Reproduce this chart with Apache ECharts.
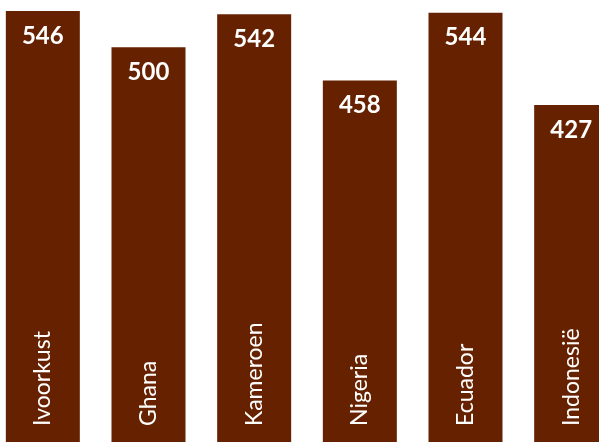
<!DOCTYPE html>
<html>
<head>
<meta charset="utf-8">
<script src="https://cdn.jsdelivr.net/npm/echarts@6/dist/echarts.min.js"></script>
<style>
html,body{margin:0;padding:0;background:#fff;overflow:hidden;width:599px;height:442px;}
#c{width:634px;height:442px;margin-left:-10px;}
</style>
</head>
<body>
<div id="c"></div>
<script>
var categories = ['Ivoorkust', 'Ghana', 'Kameroen', 'Nigeria', 'Ecuador', 'Indonesië'];
var values = [546, 500, 542, 458, 544, 427];

var chart = echarts.init(document.getElementById('c'), null, {renderer: 'canvas'});
chart.setOption({
  animation: false,
  grid: {left: 0, right: 0, top: 0, bottom: 0, containLabel: false},
  xAxis: {
    type: 'category',
    data: categories,
    axisLine: {show: false},
    axisTick: {show: false},
    axisLabel: {
      inside: true,
      rotate: 90,
      margin: 16,
      color: '#ffffff',
      fontFamily: 'Lato',
      fontSize: 23,
      interval: 0
    },
    z: 10
  },
  yAxis: {
    type: 'value',
    min: 0,
    max: 560,
    show: false,
    splitLine: {show: false}
  },
  series: [{
    type: 'bar',
    data: values,
    barWidth: 74,
    itemStyle: {color: '#662200'},
    label: {
      show: true,
      position: 'insideTop',
      distance: 13,
      color: '#ffffff',
      fontFamily: 'Lato',
      fontWeight: 'bold',
      fontSize: 24
    }
  }]
});
</script>
</body>
</html>
